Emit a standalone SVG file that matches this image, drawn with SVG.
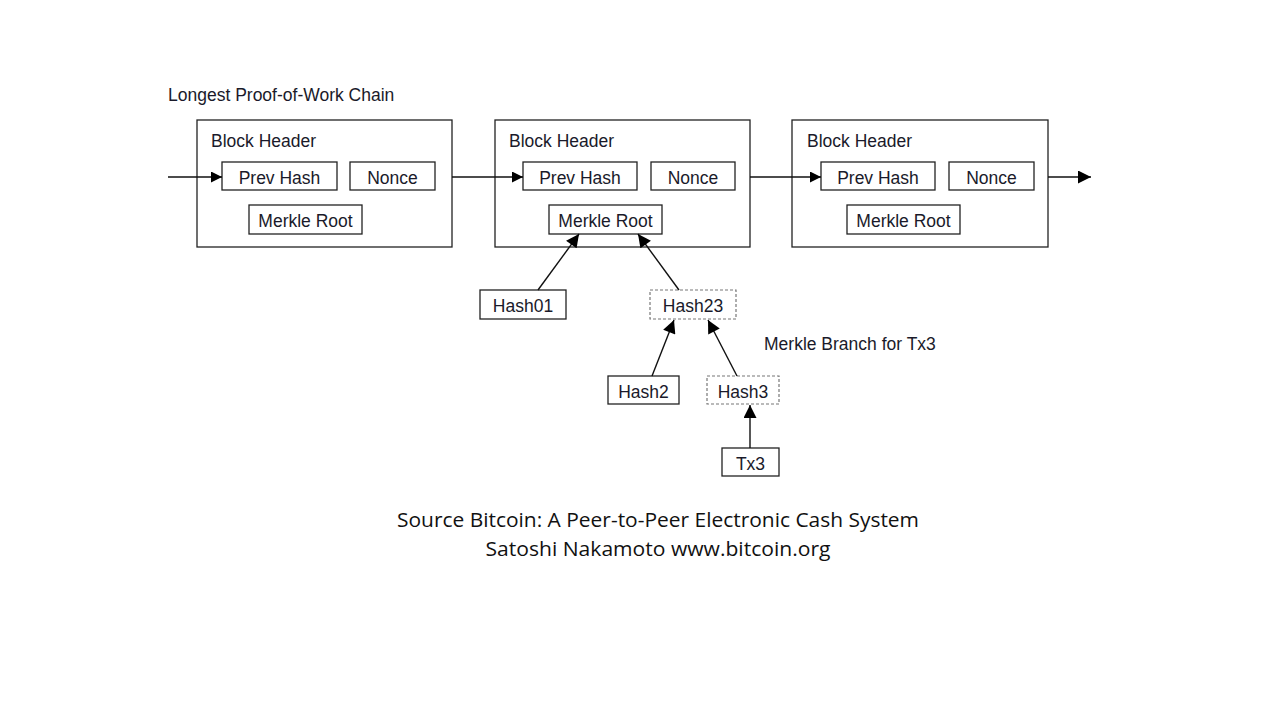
<svg xmlns="http://www.w3.org/2000/svg" width="1280" height="720" viewBox="0 0 1280 720">
<defs>
<marker id="ah" viewBox="0 0 10 10" refX="10" refY="5" markerWidth="12" markerHeight="11" markerUnits="userSpaceOnUse" orient="auto"><path d="M0,0 L10,5 L0,10 z" fill="#000"/></marker>
<marker id="ahB" viewBox="0 0 10 10" refX="10" refY="5" markerWidth="15" markerHeight="13" markerUnits="userSpaceOnUse" orient="auto"><path d="M0,0 L10,5 L0,10 z" fill="#000"/></marker>
</defs>
<style>
.blk{fill:#fff;stroke:#222;stroke-width:1.3}
.box{fill:#fff;stroke:#222;stroke-width:1.3}
.dash{fill:#fff;stroke:#777;stroke-width:1.2;stroke-dasharray:3 2}
.t{font-family:"Liberation Sans",Arial,sans-serif;font-size:17.5px;fill:#1a1a2a}
.c{text-anchor:middle}
.cap{font-family:"Open Sans","Liberation Sans",sans-serif;font-size:20px;fill:#111;text-anchor:middle}
.ln{stroke:#111;stroke-width:1.4;fill:none}
</style>
<rect width="1280" height="720" fill="#fff"/>
<text class="t" x="168" y="101">Longest Proof-of-Work Chain</text>
<g id="block1">
<rect class="blk" x="197" y="120" width="255" height="127"/>
<text class="t" x="211" y="147">Block Header</text>
<rect class="box" x="222" y="162" width="115" height="28"/><text class="t c" x="279.5" y="184">Prev Hash</text>
<rect class="box" x="350" y="162" width="85" height="28"/><text class="t c" x="392.5" y="184">Nonce</text>
<rect class="box" x="249" y="205" width="113" height="29"/><text class="t c" x="305.5" y="227">Merkle Root</text>
</g>
<g id="block2">
<rect class="blk" x="495" y="120" width="255" height="127"/>
<text class="t" x="509" y="147">Block Header</text>
<rect class="box" x="523" y="162" width="114" height="28"/><text class="t c" x="580" y="184">Prev Hash</text>
<rect class="box" x="651" y="162" width="84" height="28"/><text class="t c" x="693" y="184">Nonce</text>
<rect class="box" x="549" y="205" width="113" height="29"/><text class="t c" x="605.5" y="227">Merkle Root</text>
</g>
<g id="block3">
<rect class="blk" x="792" y="120" width="256" height="127"/>
<text class="t" x="807" y="147">Block Header</text>
<rect class="box" x="821" y="162" width="114" height="28"/><text class="t c" x="878" y="184">Prev Hash</text>
<rect class="box" x="949" y="162" width="85" height="28"/><text class="t c" x="991.5" y="184">Nonce</text>
<rect class="box" x="847" y="205" width="113" height="29"/><text class="t c" x="903.5" y="227">Merkle Root</text>
</g>
<g id="hash01"><rect class="box" x="480" y="290" width="86" height="29"/><text class="t c" x="523" y="312">Hash01</text></g>
<g id="hash23"><rect class="dash" x="650" y="290" width="86" height="29"/><text class="t c" x="693" y="312">Hash23</text></g>
<g id="hash2"><rect class="box" x="608" y="376" width="71" height="28"/><text class="t c" x="643.5" y="398">Hash2</text></g>
<g id="hash3"><rect class="dash" x="707" y="376" width="72" height="28"/><text class="t c" x="743" y="398">Hash3</text></g>
<g id="tx3"><rect class="box" x="722" y="448" width="57" height="28"/><text class="t c" x="750.5" y="470">Tx3</text></g>
<text class="t" x="764" y="350">Merkle Branch for Tx3</text>
<g id="connectors">
<line class="ln" x1="168" y1="177" x2="222" y2="177" marker-end="url(#ah)"/>
<line class="ln" x1="452" y1="177" x2="523" y2="177" marker-end="url(#ah)"/>
<line class="ln" x1="750" y1="177" x2="821" y2="177" marker-end="url(#ah)"/>
<line class="ln" x1="1048" y1="177" x2="1091" y2="177" marker-end="url(#ahB)"/>
<line class="ln" x1="538" y1="290" x2="579" y2="234" marker-end="url(#ahB)"/>
<line class="ln" x1="679" y1="290" x2="638" y2="234" marker-end="url(#ahB)"/>
<line class="ln" x1="652" y1="376" x2="674" y2="320" marker-end="url(#ahB)"/>
<line class="ln" x1="737" y1="376" x2="708" y2="320" marker-end="url(#ahB)"/>
<line class="ln" x1="750" y1="448" x2="750" y2="405" marker-end="url(#ahB)"/>
</g>
<text class="cap" x="658" y="527" textLength="522" lengthAdjust="spacingAndGlyphs">Source Bitcoin: A Peer-to-Peer Electronic Cash System</text>
<text class="cap" x="658" y="556" textLength="345" lengthAdjust="spacingAndGlyphs">Satoshi Nakamoto www.bitcoin.org</text>
</svg>
